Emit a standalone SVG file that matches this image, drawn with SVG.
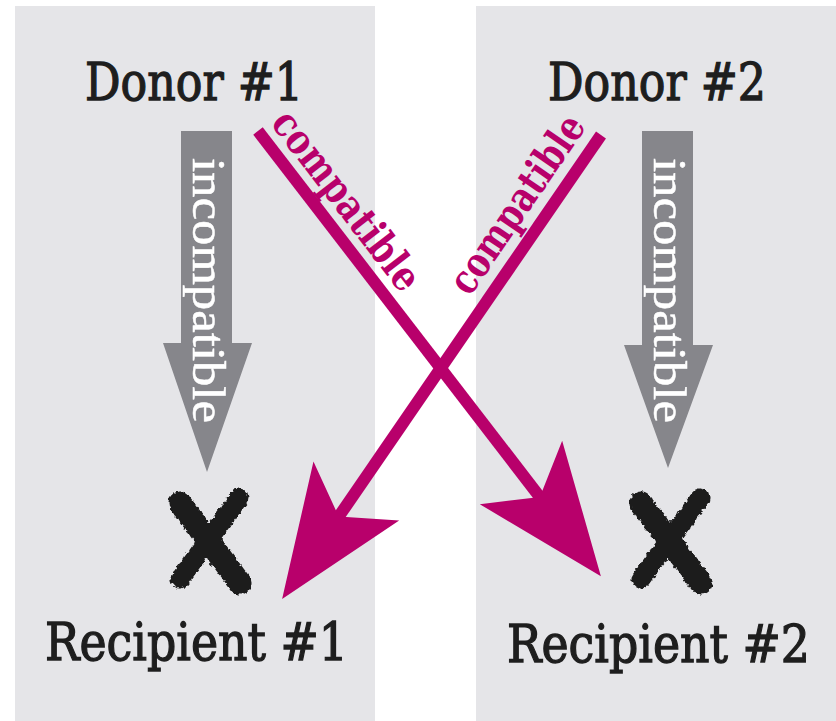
<svg xmlns="http://www.w3.org/2000/svg" width="836" height="721" viewBox="0 0 836 721">
  <defs>
    <style>
      .panel { fill: #e5e5e8; }
      .label { font-family: "DejaVu Serif", "Liberation Serif", serif; font-size: 44px; fill: #1e1e1e; stroke: #1e1e1e; stroke-width: 1.1; }
      .incomp { font-family: "Liberation Serif", "DejaVu Serif", serif; font-size: 46px; fill: #ffffff; stroke: #ffffff; stroke-width: 0.5; }
      .comp { font-family: "DejaVu Serif", "Liberation Serif", serif; font-size: 41px; font-weight: bold; fill: #b8006b; }
      .gray { fill: #86868b; }
      .mag { fill: #b8006b; }
      .magline { stroke: #b8006b; stroke-width: 12; fill: none; }
      .xmark { stroke: #1c1c1c; fill: none; stroke-linecap: round; }
    </style>
    <filter id="rough" x="-20%" y="-20%" width="140%" height="140%">
      <feTurbulence type="fractalNoise" baseFrequency="0.25" numOctaves="2" seed="3" result="n"/>
      <feDisplacementMap in="SourceGraphic" in2="n" scale="5" xChannelSelector="R" yChannelSelector="G"/>
    </filter>
  </defs>

  <rect width="836" height="721" fill="#ffffff"/>
  <rect class="panel" x="15" y="6" width="360" height="715"/>
  <rect class="panel" x="476" y="6" width="360" height="715"/>

  <g id="donor1">
    <text class="label" transform="translate(85,100) scale(1,1.18)" x="0" y="0" textLength="218" lengthAdjust="spacingAndGlyphs">Donor #1</text>
  </g>
  <g id="donor2">
    <text class="label" transform="translate(548,100) scale(1,1.18)" x="0" y="0" textLength="218" lengthAdjust="spacingAndGlyphs">Donor #2</text>
  </g>
  <g id="recipient1">
    <g filter="url(#rough)">
      <path class="xmark" stroke-width="23" d="M180,503 L240,583"/>
      <path class="xmark" stroke-width="19" d="M239,498 L180,579"/>
    </g>
    <text class="label" transform="translate(45,660) scale(1,1.18)" x="0" y="0" textLength="303" lengthAdjust="spacingAndGlyphs">Recipient #1</text>
  </g>
  <g id="recipient2">
    <g filter="url(#rough)">
      <path class="xmark" stroke-width="23" d="M641,503 L701,583"/>
      <path class="xmark" stroke-width="19" d="M700,498 L641,579"/>
    </g>
    <text class="label" transform="translate(507,662) scale(1,1.18)" x="0" y="0" textLength="303" lengthAdjust="spacingAndGlyphs">Recipient #2</text>
  </g>

  <g id="connectors">
    <g id="incompatible1">
      <polygon class="gray" points="181,131 232,131 232,343 252,343 207,472 163,343 181,343"/>
      <text class="incomp" transform="translate(193,158) rotate(90)" x="0" y="0" textLength="265" lengthAdjust="spacingAndGlyphs">incompatible</text>
    </g>
    <g id="incompatible2">
      <polygon class="gray" points="642,131 693,131 693,345 713,345 668,468 624,345 642,345"/>
      <text class="incomp" transform="translate(654,158) rotate(90)" x="0" y="0" textLength="265" lengthAdjust="spacingAndGlyphs">incompatible</text>
    </g>
    <g id="compatible1">
      <g transform="translate(258,131) rotate(52.4)">
        <line class="magline" x1="0" y1="0" x2="468" y2="0"/>
        <polygon class="mag" points="562,0 431,-52 462,0 431,52"/>
      </g>
      <text class="comp" transform="translate(269.7,123.3) rotate(52.4)" x="0" y="0" textLength="216" lengthAdjust="spacingAndGlyphs">compatible</text>
    </g>
    <g id="compatible2">
      <g transform="translate(601,135) rotate(124.5)">
        <line class="magline" x1="0" y1="0" x2="468" y2="0"/>
        <polygon class="mag" points="563,0 432,-52 463,0 432,52"/>
      </g>
      <text class="comp" transform="translate(469.8,297.3) rotate(-55.5)" x="0" y="0" textLength="207" lengthAdjust="spacingAndGlyphs">compatible</text>
    </g>
  </g>
</svg>
